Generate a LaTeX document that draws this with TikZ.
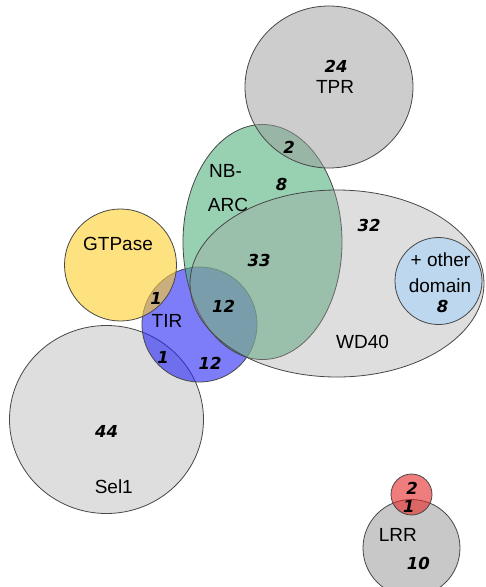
\documentclass[tikz,border=0pt]{standalone}
\usepackage{fontspec}
\setmainfont{Liberation Sans}
\newfontfamily\numfont{DejaVu Sans Bold Oblique}
\usepackage{xcolor}
\definecolor{selgray}{RGB}{222,222,222}
\definecolor{tirblue}{RGB}{38,38,247}
\definecolor{gtpyellow}{RGB}{255,207,43}
\definecolor{arcgreen}{RGB}{83,177,127}
\definecolor{wdgray}{RGB}{160,160,160}
\definecolor{tprgray}{RGB}{155,155,155}
\definecolor{otherblue}{RGB}{189,215,238}
\definecolor{lrrgray}{RGB}{200,200,200}
\definecolor{lrrred}{RGB}{230,38,38}

\begin{document}
\begin{tikzpicture}[x=1pt,y=-1pt,
	set/.style={draw=black!72,line width=0.8pt},
	lab/.style={font=\fontsize{19}{23}\selectfont,inner sep=0pt,anchor=base},
	num/.style={font=\numfont\fontsize{16.5}{19}\selectfont,inner sep=0pt,anchor=base}]
	\useasboundingbox (0,0) rectangle (486,587);
	\clip (0,0) rectangle (486,587);
	
	% domain sets
	\filldraw[set,fill=selgray] (106.5,419.5) ellipse [x radius=97,y radius=94];
	\filldraw[set,fill=tirblue,fill opacity=.6] (199.5,324.5) circle [radius=57.5];
	\filldraw[set,fill=gtpyellow,fill opacity=.6] (120.5,265) circle [radius=56];
	\filldraw[set,fill=arcgreen,fill opacity=.6] (262.5,242) ellipse [x radius=79.5,y radius=117.5];
	\filldraw[set,fill=wdgray,fill opacity=.35] (337,283.5) ellipse [x radius=147,y radius=93.5];
	\filldraw[set,fill=tprgray,fill opacity=.5] (329,87) ellipse [x radius=84,y radius=81];
	\filldraw[set,fill=otherblue] (438.5,281) circle [radius=43.5];
	\filldraw[set,fill=lrrgray] (411.5,548) circle [radius=48.5];
	\filldraw[set,fill=lrrred,fill opacity=.6] (411.5,494.5) circle [radius=20.5];
	
	% set names
	\node[lab] (tpr) at (335,93) {TPR};
	\node[lab] (nb) at (225.5,177.3) {NB-};
	\node[lab] (arc) at (228,211) {ARC};
	\node[lab] (gtp) at (118,250.7) {GTPase};
	\node[lab] (tir) at (167,327.3) {TIR};
	\node[lab] (wd) at (362.5,348.3) {WD40};
	\node[lab] (other) at (440.5,266.7) {+ other};
	\node[lab] (dom) at (440,292.7) {domain};
	\node[lab] (sel) at (113.8,493.3) {Sel1};
	\node[lab] (lrr) at (397.8,541.7) {LRR};
	
	% counts
	\foreach \x/\y/\n/\name in {336/72/24/ntpr,289/153.3/2/ntprarc,281.7/190.7/8/narc,
		369/231.7/32/nwd,259/266.7/33/narcwd,156/304/1/ngtptir,223.7/312.7/12/ntirarc,
		163/363.3/1/nseltir,210/369.3/12/ntir,106.7/437.3/44/nsel,442.5/312.7/8/nother,
		412/494/2/nred,408.8/512.7/1/nredlrr,418.3/569.3/10/nlrr}
		\node[num] (\name) at (\x,\y) {\n};
\end{tikzpicture}
\end{document}
